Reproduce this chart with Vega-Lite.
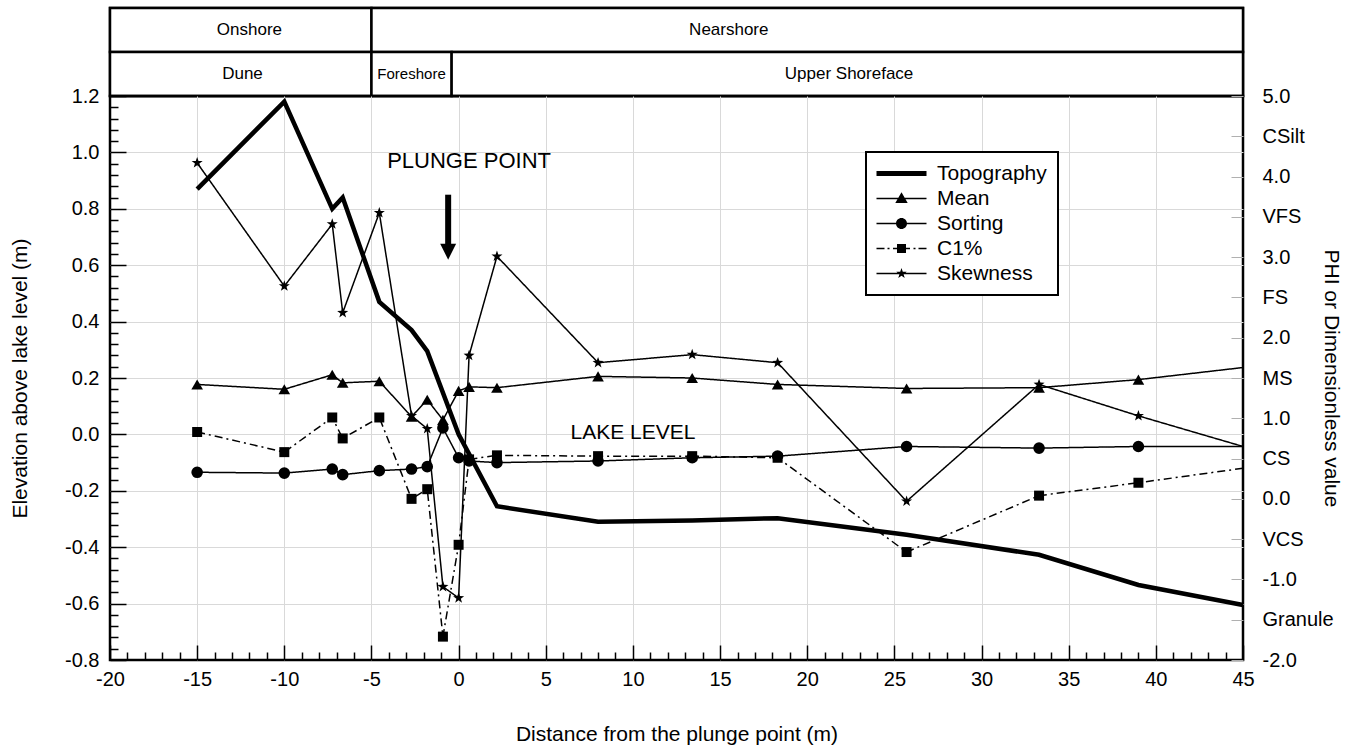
{
  "$schema": "https://vega.github.io/schema/vega-lite/v6.json",
  "background": "white",
  "padding": {"left": 8, "top": 5, "right": 0, "bottom": 0},
  "spacing": 0,
  "bounds": "flush",
  "datasets": {
    "zones": [
      {"level": "Zone", "name": "Onshore", "start": -20, "end": -5, "labelAt": -12},
      {"level": "Zone", "name": "Nearshore", "start": -5, "end": 45, "labelAt": 15.5},
      {"level": "Subzone", "name": "Dune", "start": -20, "end": -5, "labelAt": -12.4},
      {"level": "Subzone", "name": "Foreshore", "start": -5, "end": -0.4, "labelAt": -2.7},
      {"level": "Subzone", "name": "Upper Shoreface", "start": -0.4, "end": 45, "labelAt": 22.4}
    ],
    "notes": [
      {"note": "PLUNGE POINT", "dist": 0.6, "value": 0.97},
      {"note": "LAKE LEVEL", "dist": 10, "value": 0.005},
      {"note": "arrow", "dist": -0.6, "value": 0.85, "value2": 0.67},
      {"note": "arrowhead", "dist": -0.6, "value": 0.648}
    ],
    "profile": [
      {"series": "Topography", "dist": -15, "value": 0.87},
      {"series": "Topography", "dist": -10, "value": 1.18},
      {"series": "Topography", "dist": -7.25, "value": 0.80},
      {"series": "Topography", "dist": -6.65, "value": 0.84},
      {"series": "Topography", "dist": -4.55, "value": 0.47},
      {"series": "Topography", "dist": -2.7, "value": 0.37},
      {"series": "Topography", "dist": -1.8, "value": 0.295},
      {"series": "Topography", "dist": 0, "value": 0.0},
      {"series": "Topography", "dist": 2.2, "value": -0.255},
      {"series": "Topography", "dist": 8, "value": -0.31},
      {"series": "Topography", "dist": 13.4, "value": -0.305},
      {"series": "Topography", "dist": 18.3, "value": -0.297},
      {"series": "Topography", "dist": 25.7, "value": -0.356},
      {"series": "Topography", "dist": 33.3, "value": -0.427},
      {"series": "Topography", "dist": 39, "value": -0.534},
      {"series": "Topography", "dist": 45, "value": -0.605},

      {"series": "Mean", "dist": -15, "value": 1.42},
      {"series": "Mean", "dist": -10, "value": 1.36},
      {"series": "Mean", "dist": -7.25, "value": 1.54},
      {"series": "Mean", "dist": -6.65, "value": 1.44},
      {"series": "Mean", "dist": -4.55, "value": 1.46},
      {"series": "Mean", "dist": -2.7, "value": 1.02},
      {"series": "Mean", "dist": -1.8, "value": 1.23},
      {"series": "Mean", "dist": -0.9, "value": 0.98},
      {"series": "Mean", "dist": 0, "value": 1.34},
      {"series": "Mean", "dist": 0.6, "value": 1.39},
      {"series": "Mean", "dist": 2.2, "value": 1.38},
      {"series": "Mean", "dist": 8, "value": 1.52},
      {"series": "Mean", "dist": 13.4, "value": 1.50},
      {"series": "Mean", "dist": 18.3, "value": 1.42},
      {"series": "Mean", "dist": 25.7, "value": 1.37},
      {"series": "Mean", "dist": 33.3, "value": 1.38},
      {"series": "Mean", "dist": 39, "value": 1.48},
      {"series": "Mean", "dist": 45, "value": 1.63},

      {"series": "Sorting", "dist": -15, "value": 0.33},
      {"series": "Sorting", "dist": -10, "value": 0.32},
      {"series": "Sorting", "dist": -7.25, "value": 0.37},
      {"series": "Sorting", "dist": -6.65, "value": 0.30},
      {"series": "Sorting", "dist": -4.55, "value": 0.35},
      {"series": "Sorting", "dist": -2.7, "value": 0.37},
      {"series": "Sorting", "dist": -1.8, "value": 0.40},
      {"series": "Sorting", "dist": -0.9, "value": 0.88},
      {"series": "Sorting", "dist": 0, "value": 0.51},
      {"series": "Sorting", "dist": 0.6, "value": 0.47},
      {"series": "Sorting", "dist": 2.2, "value": 0.45},
      {"series": "Sorting", "dist": 8, "value": 0.47},
      {"series": "Sorting", "dist": 13.4, "value": 0.51},
      {"series": "Sorting", "dist": 18.3, "value": 0.53},
      {"series": "Sorting", "dist": 25.7, "value": 0.65},
      {"series": "Sorting", "dist": 33.3, "value": 0.63},
      {"series": "Sorting", "dist": 39, "value": 0.65},
      {"series": "Sorting", "dist": 45, "value": 0.65},

      {"series": "C1%", "dist": -15, "value": 0.83},
      {"series": "C1%", "dist": -10, "value": 0.58},
      {"series": "C1%", "dist": -7.25, "value": 1.01},
      {"series": "C1%", "dist": -6.65, "value": 0.75},
      {"series": "C1%", "dist": -4.55, "value": 1.01},
      {"series": "C1%", "dist": -2.7, "value": 0.0},
      {"series": "C1%", "dist": -1.8, "value": 0.12},
      {"series": "C1%", "dist": -0.9, "value": -1.71},
      {"series": "C1%", "dist": 0, "value": -0.57},
      {"series": "C1%", "dist": 0.6, "value": 0.49},
      {"series": "C1%", "dist": 2.2, "value": 0.54},
      {"series": "C1%", "dist": 8, "value": 0.53},
      {"series": "C1%", "dist": 13.4, "value": 0.53},
      {"series": "C1%", "dist": 18.3, "value": 0.51},
      {"series": "C1%", "dist": 25.7, "value": -0.66},
      {"series": "C1%", "dist": 33.3, "value": 0.04},
      {"series": "C1%", "dist": 39, "value": 0.20},
      {"series": "C1%", "dist": 45, "value": 0.38},

      {"series": "Skewness", "dist": -15, "value": 4.17},
      {"series": "Skewness", "dist": -10, "value": 2.64},
      {"series": "Skewness", "dist": -7.25, "value": 3.41},
      {"series": "Skewness", "dist": -6.65, "value": 2.31},
      {"series": "Skewness", "dist": -4.55, "value": 3.55},
      {"series": "Skewness", "dist": -2.7, "value": 1.03},
      {"series": "Skewness", "dist": -1.8, "value": 0.87},
      {"series": "Skewness", "dist": -0.9, "value": -1.09},
      {"series": "Skewness", "dist": 0, "value": -1.23},
      {"series": "Skewness", "dist": 0.6, "value": 1.78},
      {"series": "Skewness", "dist": 2.2, "value": 3.01},
      {"series": "Skewness", "dist": 8, "value": 1.69},
      {"series": "Skewness", "dist": 13.4, "value": 1.79},
      {"series": "Skewness", "dist": 18.3, "value": 1.69},
      {"series": "Skewness", "dist": 25.7, "value": -0.03},
      {"series": "Skewness", "dist": 33.3, "value": 1.42},
      {"series": "Skewness", "dist": 39, "value": 1.03},
      {"series": "Skewness", "dist": 45, "value": 0.65}
    ]
  },
  "vconcat": [
    {
      "width": 1133,
      "height": 88,
      "data": {"name": "zones"},
      "layer": [
        {
          "mark": {"type": "rect", "fill": "white", "stroke": "black", "strokeWidth": 2.5},
          "encoding": {
            "x": {"field": "start", "type": "quantitative", "scale": {"domain": [-20, 45], "nice": false, "zero": false}, "axis": null},
            "x2": {"field": "end"},
            "y": {"field": "level", "type": "nominal", "scale": {"domain": ["Zone", "Subzone"], "paddingInner": 0, "paddingOuter": 0}, "axis": null}
          }
        },
        {
          "mark": {"type": "text", "font": "Liberation Sans", "color": "black", "align": "center", "baseline": "middle"},
          "encoding": {
            "x": {"field": "labelAt", "type": "quantitative", "axis": null},
            "y": {"field": "level", "type": "nominal", "axis": null},
            "text": {"field": "name"},
            "size": {"condition": {"test": "datum.name === 'Foreshore'", "value": 15}, "value": 17}
          }
        }
      ]
    },
    {
      "width": 1133,
      "height": 564,
      "data": {"name": "profile"},
      "encoding": {
        "x": {
          "field": "dist", "type": "quantitative",
          "scale": {"domain": [-20, 45], "nice": false, "zero": false},
          "axis": {
            "orient": "bottom",
            "title": "Distance from the plunge point (m)",
            "values": [-20,-19,-18,-17,-16,-15,-14,-13,-12,-11,-10,-9,-8,-7,-6,-5,-4,-3,-2,-1,0,1,2,3,4,5,6,7,8,9,10,11,12,13,14,15,16,17,18,19,20,21,22,23,24,25,26,27,28,29,30,31,32,33,34,35,36,37,38,39,40,41,42,43,44,45],
            "labelExpr": "datum.value % 5 === 0 ? replace(format(datum.value, 'd'), '−', '-') : ''",
            "tickSize": {"condition": {"test": "datum.value % 5 === 0", "value": -15}, "value": -8},
            "tickWidth": 1.5,
            "tickColor": "black",
            "labelPadding": 24,
            "grid": true,
            "gridOpacity": {"condition": {"test": "datum.value % 5 === 0 && datum.value > -20 && datum.value < 45", "value": 1}, "value": 0},
            "titlePadding": 27,
            "labelOverlap": false,
            "labelBound": false,
            "labelFlush": false
          }
        }
      },
      "layer": [
        {
          "encoding": {
            "y": {
              "field": "value", "type": "quantitative",
              "scale": {"domain": [-0.8, 1.2], "nice": false, "zero": false},
              "axis": {
                "orient": "left",
                "title": "Elevation above lake level (m)",
                "values": [-0.8,-0.76,-0.72,-0.68,-0.64,-0.6,-0.56,-0.52,-0.48,-0.44,-0.4,-0.36,-0.32,-0.28,-0.24,-0.2,-0.16,-0.12,-0.08,-0.04,0,0.04,0.08,0.12,0.16,0.2,0.24,0.28,0.32,0.36,0.4,0.44,0.48,0.52,0.56,0.6,0.64,0.68,0.72,0.76,0.8,0.84,0.88,0.92,0.96,1,1.04,1.08,1.12,1.16,1.2],
                "labelExpr": "abs(datum.value * 5 - round(datum.value * 5)) < 0.001 ? replace(format(datum.value, '.1f'), '−', '-') : ''",
                "tickSize": {"condition": {"test": "abs(datum.value * 5 - round(datum.value * 5)) < 0.001", "value": -16}, "value": -8},
                "tickWidth": 1.5,
                "tickColor": "black",
                "labelPadding": 27,
                "grid": true,
                "gridOpacity": {"condition": {"test": "abs(datum.value * 5 - round(datum.value * 5)) < 0.001 && datum.value > -0.79 && datum.value < 1.19", "value": 1}, "value": 0},
                "titlePadding": 34,
                "labelOverlap": false,
                "labelBound": false,
                "labelFlush": false
              }
            }
          },
          "layer": [
            {
              "transform": [{"filter": "datum.series === 'Topography'"}],
              "mark": {"type": "line", "color": "black", "strokeWidth": 4.5}
            },
            {
              "data": {"name": "notes"},
              "transform": [{"filter": "datum.note === 'PLUNGE POINT' || datum.note === 'LAKE LEVEL'"}],
              "mark": {"type": "text", "font": "Liberation Sans", "color": "black", "align": "center", "baseline": "middle"},
              "encoding": {
                "text": {"field": "note"},
                "size": {"condition": {"test": "datum.note === 'PLUNGE POINT'", "value": 22}, "value": 21}
              }
            },
            {
              "data": {"name": "notes"},
              "transform": [{"filter": "datum.note === 'arrow'"}],
              "mark": {"type": "rule", "color": "black", "strokeWidth": 6},
              "encoding": {"y2": {"field": "value2"}}
            },
            {
              "data": {"name": "notes"},
              "transform": [{"filter": "datum.note === 'arrowhead'"}],
              "mark": {"type": "point", "shape": "M-1,-1L1,-1L0,1Z", "size": 256, "filled": true, "color": "black", "opacity": 1}
            }
          ]
        },
        {
          "transform": [{"filter": "datum.series !== 'Topography'"}],
          "encoding": {
            "y": {
              "field": "value", "type": "quantitative",
              "scale": {"domain": [-2, 5], "nice": false, "zero": false},
              "axis": {
                "orient": "right",
                "title": "PHI or Dimensionless value",
                "values": [-2,-1.5,-1,-0.5,0,0.5,1,1.5,2,2.5,3,3.5,4,4.5,5],
                "labelExpr": "datum.value === 4.5 ? 'CSilt' : datum.value === 3.5 ? 'VFS' : datum.value === 2.5 ? 'FS' : datum.value === 1.5 ? 'MS' : datum.value === 0.5 ? 'CS' : datum.value === -0.5 ? 'VCS' : datum.value === -1.5 ? 'Granule' : replace(format(datum.value, '.1f'), '−', '-')",
                "tickSize": -12,
                "tickColor": "#b0b0b0",
                "tickWidth": 1,
                "labelPadding": 31,
                "grid": false,
                "titlePadding": -13,
                "labelOverlap": false,
                "labelBound": false,
                "labelFlush": false
              }
            }
          },
          "layer": [
            {
              "mark": {"type": "line", "color": "black", "strokeWidth": 1.5},
              "encoding": {
                "detail": {"field": "series"},
                "strokeDash": {
                  "field": "series", "type": "nominal",
                  "scale": {"domain": ["Mean", "Sorting", "C1%", "Skewness"], "range": [[1, 0], [1, 0], [8, 4, 2, 4], [1, 0]]},
                  "legend": null
                }
              }
            },
            {
              "transform": [{"filter": "datum.dist < 45"}],
              "mark": {"type": "point", "filled": true, "color": "black", "opacity": 1, "strokeWidth": 0},
              "encoding": {
                "shape": {
                  "field": "series", "type": "nominal",
                  "scale": {"domain": ["Mean", "Sorting", "C1%", "Skewness"], "range": ["triangle-up", "circle", "square", "M0,-1L0.235,-0.324L0.951,-0.309L0.38,0.124L0.588,0.809L0,0.4L-0.588,0.809L-0.38,0.124L-0.951,-0.309L-0.235,-0.324Z"]},
                  "legend": null
                },
                "size": {"condition": {"test": "datum.series === 'C1%'", "value": 100}, "value": 135}
              }
            }
          ]
        },
        {
          "transform": [{"filter": "false"}],
          "mark": {"type": "point", "filled": true, "color": "black", "opacity": 1},
          "encoding": {
            "shape": {
              "field": "series", "type": "nominal",
              "scale": {
                "domain": ["Topography", "Mean", "Sorting", "C1%", "Skewness"],
                "range": [
                  "M-2.5,-0.25H2.5V0.25H-2.5Z",
                  "M-2.5,-0.075H2.5V0.075H-2.5ZM0,-0.62L0.62,0.45L-0.62,0.45Z",
                  "M-2.5,-0.075H2.5V0.075H-2.5ZM-0.55,0A0.55,0.55,0,1,1,0.55,0A0.55,0.55,0,1,1,-0.55,0Z",
                  "M-2.5,-0.075H-1.7V0.075H-2.5ZM-1.4,-0.075H-1.2V0.075H-1.4ZM-0.85,-0.075H-0.45V0.075H-0.85ZM0.45,-0.075H0.85V0.075H0.45ZM1.2,-0.075H1.4V0.075H1.2ZM1.7,-0.075H2.5V0.075H1.7ZM-0.45,-0.45H0.45V0.45H-0.45Z",
                  "M-2.5,-0.075H2.5V0.075H-2.5ZM0,-0.55L0.129,-0.178L0.523,-0.17L0.209,0.068L0.323,0.445L0,0.22L-0.323,0.445L-0.209,0.068L-0.523,-0.17L-0.129,-0.178Z"
                ]
              },
              "legend": {
                "orient": "none",
                "legendX": 756,
                "legendY": 56,
                "title": null,
                "strokeColor": "black",
                "fillColor": "white",
                "padding": 11,
                "symbolSize": 400,
                "symbolFillColor": "black",
                "symbolStrokeColor": "black",
                "symbolStrokeWidth": 0,
                "symbolOffset": 14,
                "labelOffset": 25,
                "labelFontSize": 21,
                "labelFont": "Liberation Sans",
                "labelColor": "black",
                "labelLimit": 300,
                "rowPadding": 3
              }
            }
          }
        }
      ],
      "resolve": {"scale": {"y": "independent", "shape": "independent"}}
    }
  ],
  "resolve": {"legend": {"shape": "independent"}},
  "config": {
    "font": "Liberation Sans",
    "view": {"stroke": "black", "strokeWidth": 2.5},
    "axis": {
      "labelFont": "Liberation Sans",
      "labelFontSize": 20,
      "labelColor": "black",
      "titleFont": "Liberation Sans",
      "titleFontSize": 21,
      "titleFontWeight": "normal",
      "titleColor": "black",
      "domain": false,
      "gridColor": "#d9d9d9",
      "gridWidth": 1,
      "labelOverlap": false
    },
    "legend": {"strokeWidth": 2}
  }
}
